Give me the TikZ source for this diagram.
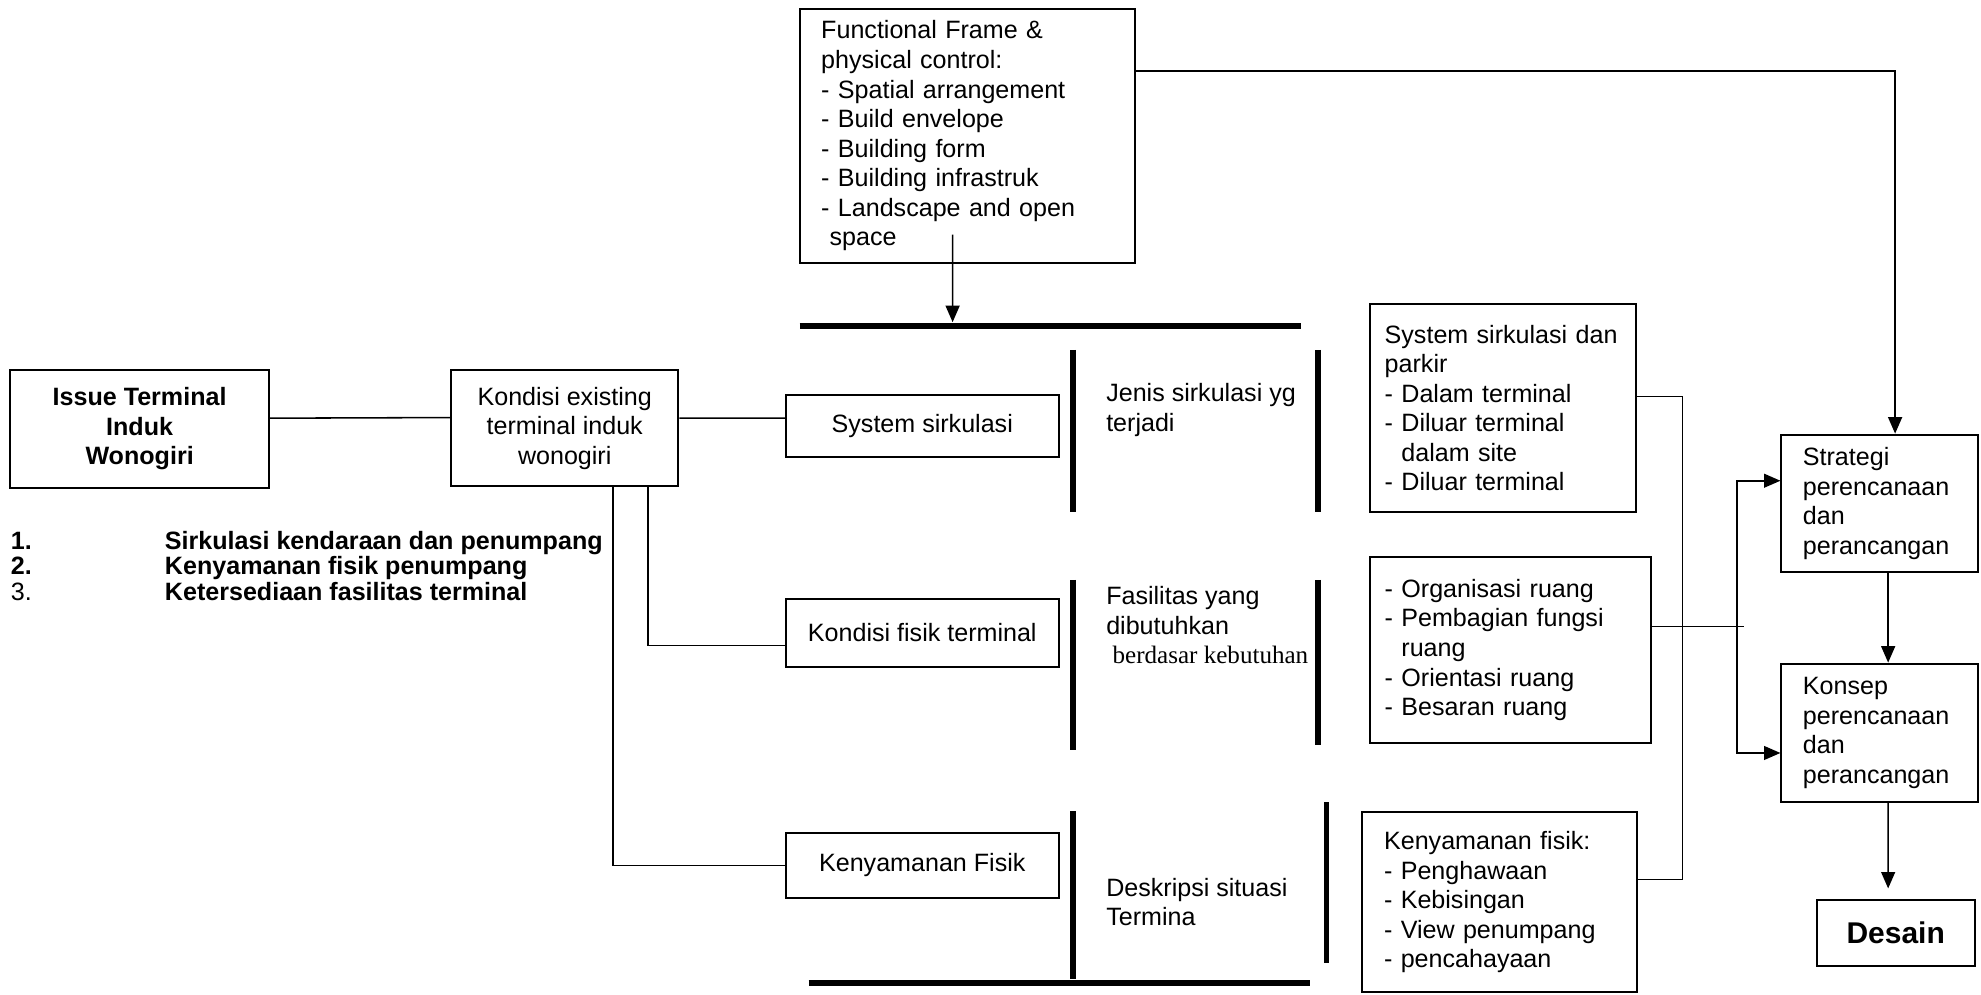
\documentclass[tikz,border=0pt]{standalone}
\usepackage{fontspec}
\setmainfont{Liberation Sans}
\newfontfamily\serifcut{Liberation Serif}
\newcommand{\boxfont}{\fontsize{11.3}{13.3}\selectfont}
\usetikzlibrary{arrows.meta}
\usetikzlibrary{matrix}

\begin{document}
\begin{tikzpicture}[x=0.02cm,y=-0.02cm,line width=0.7pt,font=\boxfont,
box/.style={draw,line width=0.9pt,align=center,inner sep=0pt},
lbox/.style={draw,line width=0.9pt,align=left,inner ysep=0pt},
txt/.style={anchor=west,align=left,inner sep=0pt},
bar/.style={line width=2.6pt},
arr/.style={-{Triangle[length=0.26cm,width=0.22cm]}}]
\useasboundingbox (0,0) rectangle (1568,787);

\node[box,minimum width=4.1cm,minimum height=1.86cm,font=\boxfont\bfseries] (issue) at (110.5,339.5) {Issue Terminal\\Induk\\Wonogiri};
\node[box,minimum width=3.6cm,minimum height=1.84cm] (kondisi) at (447,339) {Kondisi existing\\terminal induk\\wonogiri};

\matrix [matrix of nodes, anchor=north west, inner sep=0pt,
nodes={anchor=base west,inner sep=0pt,font=\boxfont\bfseries},
row sep={0.4cm,between origins},
column sep={2.44cm,between origins}] (list) at (8,420)
{
|(n1)|{1.} & |(l1)|{Sirkulasi kendaraan dan penumpang} \\
|(n2)|{2.} & |(l2)|{Kenyamanan fisik penumpang} \\
|[font=\boxfont](n3)|{3.} & |(l3)|{Ketersediaan fasilitas terminal} \\
};

\node[lbox,inner xsep=0.34cm,text width=4.62cm,minimum height=4.02cm] (ff) at (765.5,107.5) {Functional Frame \&\\physical control:\\- Spatial arrangement\\- Build envelope\\- Building form\\- Building infrastruk\\- Landscape and open\\\phantom{-}space};

\node[box,minimum width=4.32cm,minimum height=0.98cm] (s1) at (730,337.5) {System sirkulasi};
\node[box,minimum width=4.32cm,minimum height=1.08cm] (s2) at (730,501) {Kondisi fisik terminal};
\node[box,minimum width=4.32cm,minimum height=1.04cm] (s3) at (730,685) {Kenyamanan Fisik};

\node[txt] (m1) at (875,324.5) {Jenis sirkulasi yg\\terjadi};
\node[txt] (m2) at (875,495) {Fasilitas yang\\dibutuhkan\\{\serifcut\hspace{0.1cm}berdasar kebutuhan}};
\node[txt] (m3) at (875,714) {Deskripsi situasi\\Termina};

\node[lbox,inner xsep=0.24cm,text width=3.74cm,minimum height=3.28cm] (r1) at (1189.5,323) {System sirkulasi dan\\parkir\\- Dalam terminal\\- Diluar terminal\\\phantom{- }dalam site\\- Diluar terminal};
\node[lbox,inner xsep=0.24cm,text width=3.98cm,minimum height=2.94cm] (r2) at (1195.5,514.5) {- Organisasi ruang\\- Pembagian fungsi\\\phantom{- }ruang\\- Orientasi ruang\\- Besaran ruang};
\node[lbox,inner xsep=0.35cm,text width=3.66cm,minimum height=2.84cm] (r3) at (1187,714) {Kenyamanan fisik:\\- Penghawaan\\- Kebisingan\\- View penumpang\\- pencahayaan};

\node[lbox,inner xsep=0.34cm,text width=2.44cm,minimum height=2.18cm] (strat) at (1488,398.5) {Strategi\\perencanaan\\dan\\perancangan};
\node[lbox,inner xsep=0.34cm,text width=2.44cm,minimum height=2.19cm] (konsep) at (1488,580) {Konsep\\perencanaan\\dan\\perancangan};
\node[box,minimum width=2.5cm,minimum height=1.06cm,font=\fontsize{13.5}{16}\selectfont\bfseries] (desain) at (1500.5,738.5) {Desain};

\draw[bar] (633,258) -- (1030,258);
\draw[bar] (640,778) -- (1037,778);
\foreach \y/\z in {277/405,459/594,642/775}
\draw[bar] (849,\y) -- (849,\z);
\foreach \y/\z in {277/405,459/590}
\draw[bar] (1043,\y) -- (1043,\z);
\draw[bar] (1050,635) -- (1050,762);
\coordinate (t) at (754,255);
\coordinate (j) at (1375,496);

\draw ([yshift=0.17cm]issue.east) -- ([yshift=0.17cm]kondisi.west);
\draw ([yshift=0.16cm]kondisi.east) -- ([yshift=0.13cm]s1.west);
\draw ([xshift=1.32cm]kondisi.south) |- ([yshift=-0.2cm]s2.west);
\draw ([xshift=0.76cm]kondisi.south) |- (s3.west);
\draw[arr] ([xshift=-0.23cm,yshift=0.46cm]ff.south) -- (t);
\draw[arr] ([yshift=1.03cm]ff.east) -| ([xshift=0.24cm]strat.north);
\draw ([yshift=0.18cm]r1.east) -- ++(0.72cm,0) |- ([yshift=0.36cm]r3.east);
\draw ([yshift=0.37cm]r2.east) -- ++(1.46cm,0);
\draw[arr] (j) |- ([yshift=0.36cm]strat.west);
\draw[arr] (j) |- ([yshift=-0.32cm]konsep.west);
\draw[arr] ([xshift=0.13cm]strat.south) -- ([xshift=0.13cm]konsep.north);
\draw[arr] ([xshift=0.13cm]konsep.south) -- ([xshift=-0.12cm,yshift=0.16cm]desain.north);
\end{tikzpicture}
\end{document}
